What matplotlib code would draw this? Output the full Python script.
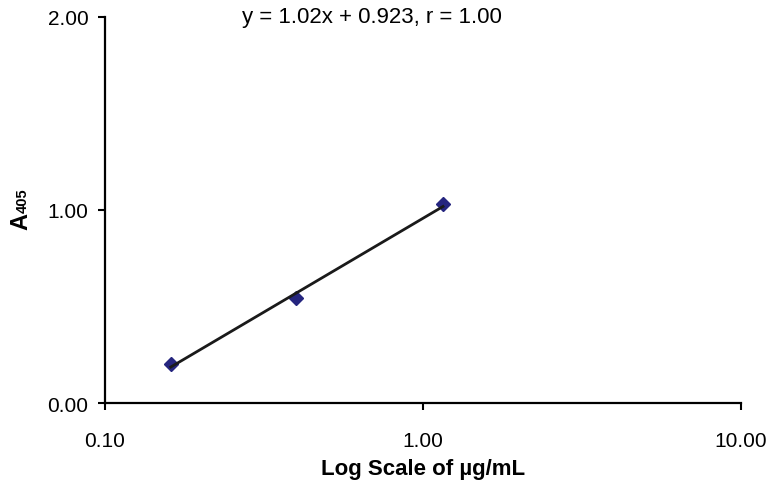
import numpy as np
import matplotlib
matplotlib.use("Agg")
import matplotlib.pyplot as plt
from matplotlib.ticker import FixedLocator, NullLocator

plt.rcParams['font.family'] = ['Liberation Sans', 'DejaVu Sans']

# Data
conc = [0.161, 0.40, 1.156]          # µg/mL
absorb = [0.20, 0.545, 1.03]         # A405
x_ticks = [0.1, 1.0, 10.0]
x_tick_labels = ["0.10", "1.00", "10.00"]
y_ticks = [0.0, 1.0, 2.0]
y_tick_labels = ["0.00", "1.00", "2.00"]
equation = "y = 1.02x + 0.923, r = 1.00"

W, H = 770, 489
fig = plt.figure(figsize=(W / 100, H / 100), dpi=100)
L, R, B, T = 105, 741, 404, 18
ax = fig.add_axes([L / W, 1 - B / H, (R - L) / W, (B - T) / H])

# Regression in log space
lx = np.log10(conc)
slope, intercept = np.polyfit(lx, absorb, 1)
xfit = np.array([min(conc), max(conc)])
yfit = slope * np.log10(xfit) + intercept

ax.plot(conc, absorb, linestyle='none', marker='D', markersize=7.5,
        color='#25257f', zorder=2, clip_on=False)
ax.plot(xfit, yfit, color='#1a1a1a', linewidth=2.0, zorder=3)

ax.set_xscale('log')
ax.set_xlim(0.1, 10)
ax.set_ylim(0, 2)
ax.xaxis.set_major_locator(FixedLocator(x_ticks))
ax.xaxis.set_minor_locator(NullLocator())
ax.set_xticklabels(x_tick_labels)
ax.set_yticks(y_ticks)
ax.set_yticklabels(y_tick_labels)

for s in ['top', 'right']:
    ax.spines[s].set_visible(False)
for s in ['left', 'bottom']:
    ax.spines[s].set_linewidth(1.6)
    ax.spines[s].set_color('black')

ax.tick_params(axis='x', direction='out', length=5, width=1.5, pad=15, labelsize=15)
ax.tick_params(axis='y', direction='out', length=5, width=1.5, pad=7, labelsize=15)

ax.set_xlabel("Log Scale of µg/mL", fontsize=16, fontweight='bold')
ax.xaxis.set_label_coords(0.5, (B - 469) / (B - T))
ax.xaxis.label.set_va('center')

# Y label: "A" with small "405"
fig.text(27 / W, 1 - 222 / H, "A", rotation=90, rotation_mode='anchor',
         ha='center', va='baseline', fontsize=17, fontweight='bold')
fig.text(27 / W, 1 - 201 / H, "405", rotation=90, rotation_mode='anchor',
         ha='center', va='baseline', fontsize=10.5, fontweight='bold')

fig.text(372 / W, 1 - 18 / H, equation, ha='center', va='center', fontsize=16)

fig.savefig("out.png", dpi=100)
